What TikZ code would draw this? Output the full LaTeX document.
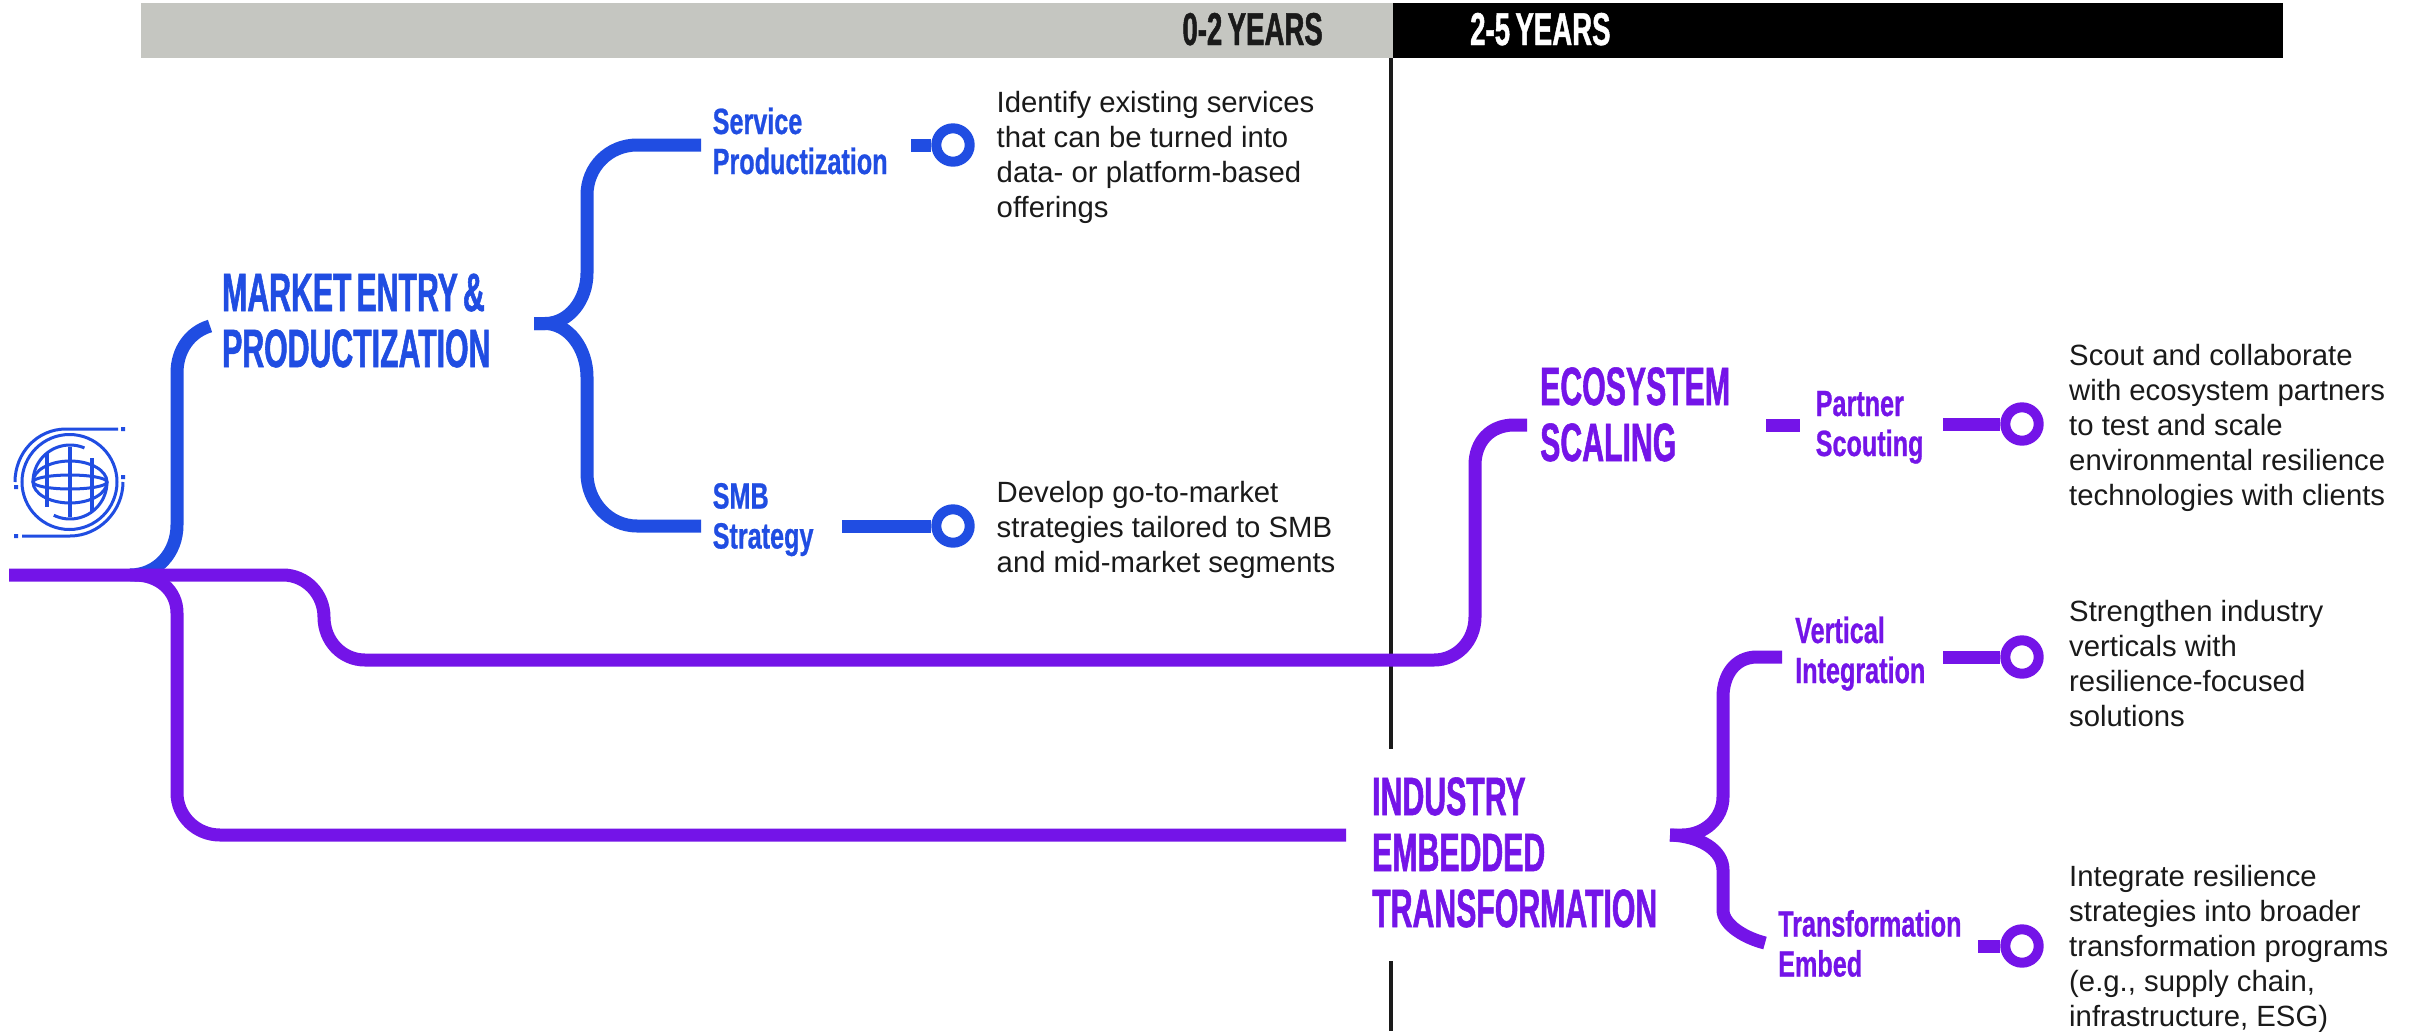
\documentclass[tikz,border=0pt]{standalone}
\usepackage{fontspec}
\setmainfont{Liberation Sans}
\newfontfamily\hfont[FakeStretch=0.56,FakeBold=1.0,WordSpace=0.6]{Liberation Sans Bold}
\newfontfamily\bfont[FakeStretch=0.6,FakeBold=1.0,WordSpace=0.7]{Liberation Sans Bold}
\newfontfamily\sfont[FakeStretch=0.69,FakeBold=0.7]{Liberation Sans Bold}
\definecolor{cblue}{RGB}{32,77,226}
\definecolor{cpurple}{RGB}{116,20,232}
\definecolor{cgrey}{RGB}{197,198,193}
\definecolor{cink}{RGB}{26,26,26}
\tikzset{
  x=1pt,y=-1pt,
  line/.style={line width=13pt,line cap=butt},
  iconline/.style={draw=cblue,line width=3pt},
  ring/.style={circle,draw=#1,fill=white,line width=10pt,minimum size=33.4pt,inner sep=0pt},
  head/.style={anchor=base west,inner sep=0pt,align=left,font=\hfont\fontsize{54}{56}\selectfont},
  sub/.style={anchor=base west,inner sep=0pt,align=left,font=\sfont\fontsize{36.5}{40}\selectfont},
  body/.style={anchor=base west,inner sep=0pt,align=left,text=cink,font=\fontsize{29.3}{35}\selectfont},
  bar/.style={inner sep=0pt,font=\bfont\fontsize{46}{46}\selectfont},
}
\begin{document}
\begin{tikzpicture}
\useasboundingbox (0,0) rectangle (2423,1031);
\fill[white] (0,0) rectangle (2423,1031);
% header
\fill[cgrey] (141,3) rectangle (1393,58);
\fill[black] (1393,3) rectangle (2283,58);
\node[bar,anchor=base east,text=cink] (lbl02) at (1323,45) {0-2 YEARS};
\node[bar,anchor=base west,text=white] (lbl25) at (1470,45) {2-5 YEARS};
% divider
\coordinate (divA) at (1391,58);
\coordinate (divB) at (1391,749);
\coordinate (divC) at (1391,961);
\coordinate (divD) at (1391,1031);
\draw[cink,line width=3.5pt] (divA) -- (divB) (divC) -- (divD);
% endpoints
\coordinate (start) at (9,575);
\coordinate (mktEnd) at (210,326);
\coordinate (bb) at (534,323.5);
\coordinate (bbU) at (701,145);
\coordinate (bbL) at (701,526);
\coordinate (ecoEnd) at (1527,425);
\coordinate (indEnd) at (1346,835);
\coordinate (pb) at (1670,835);
\coordinate (pbU) at (1782,657);
\coordinate (pbL) at (1765,943);
\coordinate (dashA) at (1766,425);
\coordinate (dashB) at (1800,425);
\coordinate (st1) at (911,145);
\coordinate (st2) at (842,526);
\coordinate (st3) at (1943,424);
\coordinate (st4) at (1943,657);
\coordinate (st5) at (1978,946);
% blue connectors
\draw[line,cblue] (130,575) .. controls (157,575) and (177,553) .. (177,525) -- (177,373) .. controls (177,350) and (190,332) .. (mktEnd);
\draw[line,cblue] (bb) -- (545,323.5) .. controls (569,323.5) and (587,300) .. (587,273) -- (587,195) .. controls (587,167) and (609,145) .. (637,145) -- (bbU);
\draw[line,cblue] (bb) -- (545,323.5) .. controls (569,323.5) and (587,349) .. (587,377) -- (587,473) .. controls (587,502) and (609,526) .. (637,526) -- (bbL);
% purple connectors
\draw[line,cpurple] (135,575) .. controls (158,575) and (177,590) .. (177,613) -- (177,793) .. controls (177,816) and (196,835) .. (220,835) -- (indEnd);
\draw[line,cpurple] (start) -- (283,575) .. controls (306,575) and (324,594) .. (324,617) .. controls (324,641) and (342,660) .. (365,660) -- (1434,660) .. controls (1457,660) and (1475,641) .. (1475,617) -- (1475,465) .. controls (1475,442) and (1490,425) .. (1514,425) -- (ecoEnd);
\draw[line,cpurple] (pb) -- (1682,835) .. controls (1705,835) and (1723,818) .. (1723,797) -- (1723,697) .. controls (1723,675) and (1735,657) .. (1757,657) -- (pbU);
\draw[line,cpurple] (pb) .. controls (1700,836) and (1723,850) .. (1723,870) -- (1723,910) .. controls (1723,925) and (1745,938) .. (pbL);
\draw[line,cpurple] (dashA) -- (dashB);
% rings
\node[ring=cblue] (r1) at (953,145) {};
\node[ring=cblue] (r2) at (953,526) {};
\node[ring=cpurple] (r3) at (2022,424) {};
\node[ring=cpurple] (r4) at (2022,657) {};
\node[ring=cpurple] (r5) at (2022,946) {};
\draw[line,cblue] (st1) -- (r1);
\draw[line,cblue] (st2) -- (r2);
\draw[line,cpurple] (st3) -- (r3);
\draw[line,cpurple] (st4) -- (r4);
\draw[line,cpurple] (st5) -- (r5);
% headings
\node[head,text=cblue] (market) at (222,367) {MARKET ENTRY \&\\PRODUCTIZATION};
\node[head,text=cpurple] (eco) at (1540,461) {ECOSYSTEM\\SCALING};
\node[head,text=cpurple] (ind) at (1372,927) {INDUSTRY\\EMBEDDED\\TRANSFORMATION};
% sub labels
\node[sub,text=cblue] (svc) at (712.5,174) {Service\\Productization};
\node[sub,text=cblue] (smb) at (712.5,548.5) {SMB\\Strategy};
\node[sub,text=cpurple] (partner) at (1815.5,456) {Partner\\Scouting};
\node[sub,text=cpurple] (vert) at (1795,683) {Vertical\\Integration};
\node[sub,text=cpurple] (trans) at (1778,976.5) {Transformation\\Embed};
% body
\node[body] (t1) at (996.5,217.5) {Identify existing services\\that can be turned into\\data- or platform-based\\offerings};
\node[body] (t2) at (996.5,572.5) {Develop go-to-market\\strategies tailored to SMB\\and mid-market segments};
\node[body] (t3) at (2069,505) {Scout and collaborate\\with ecosystem partners\\to test and scale\\environmental resilience\\technologies with clients};
\node[body] (t4) at (2069,726.5) {Strengthen industry\\verticals with\\resilience-focused\\solutions};
\node[body] (t5) at (2069,1026) {Integrate resilience\\strategies into broader\\transformation programs\\(e.g., supply chain,\\infrastructure, ESG)};
% icon
\draw[iconline] (118,429) -- (66,429) .. controls (37,429) and (15,453) .. (15,482);
\draw[iconline] (123,482) .. controls (123,511) and (99,536) .. (70,536) -- (22,536);
\draw[iconline] (69.5,482) circle[radius=47.5pt];
\draw[iconline] plot[domain=67:180,samples=30] ({70+37*cos(\x)},{482-37*sin(\x)});
\draw[iconline] plot[domain=244:360,samples=30] ({70+37*cos(\x)},{482-37*sin(\x)});
\draw[iconline] (70,482) ellipse[x radius=37pt,y radius=21pt];
\draw[iconline] (70,482) ellipse[x radius=37pt,y radius=7pt];
\draw[iconline,line width=4pt] (47,453) -- (47,507) (69.5,447) -- (69.5,517) (92,458) -- (92,512);
\fill[cblue] (121,427) rectangle (125,431) (121,475) rectangle (125,479) (14,485) rectangle (18,489) (14,534) rectangle (18,538);
\end{tikzpicture}
\end{document}
